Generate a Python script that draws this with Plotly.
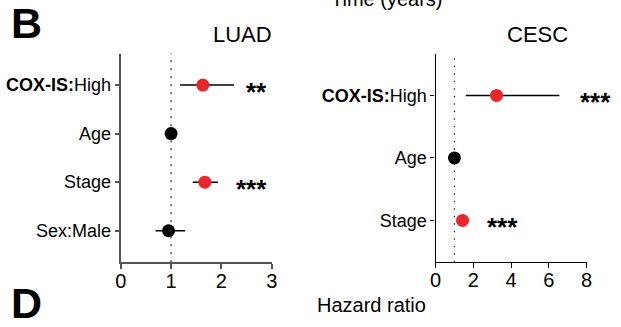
import plotly.graph_objects as go

# LUAD data
luad_vars = ["<b>COX-IS:</b>High", "Age", "Stage", "Sex:Male"]
luad_hr = [1.63, 1.00, 1.67, 0.95]
luad_lo = [1.18, 0.99, 1.43, 0.69]
luad_hi = [2.25, 1.02, 1.93, 1.28]
luad_color = ["#e8262b", "black", "#e8262b", "black"]
luad_sig = ["**", "", "***", ""]
luad_sig_x = [2.45, None, 2.25, None]

# CESC data
cesc_vars = ["<b>COX-IS:</b>High", "Age", "Stage"]
cesc_hr = [3.23, 1.00, 1.43]
cesc_lo = [1.60, 0.99, 1.25]
cesc_hi = [6.56, 1.02, 1.65]
cesc_color = ["#e8262b", "black", "#e8262b"]
cesc_sig = ["***", "", "***"]
cesc_sig_x = [7.55, None, 2.6]

luad_xticks = [0, 1, 2, 3]
cesc_xticks = [0, 2, 4, 6, 8]

W, H = 621, 327
FONT = "Arial, Liberation Sans, sans-serif"

fig = go.Figure()

def add_panel(vars_, hr, lo, hi, colors, xa, ya):
    ypos = list(range(len(vars_)))
    fig.add_trace(go.Scatter(
        x=hr, y=ypos, mode="markers",
        marker=dict(color=colors, size=13, line=dict(width=0)),
        error_x=dict(type="data", symmetric=False,
                     array=[h - m for h, m in zip(hi, hr)],
                     arrayminus=[m - l for m, l in zip(hr, lo)],
                     color="black", thickness=1.5, width=0),
        xaxis=xa, yaxis=ya, showlegend=False, cliponaxis=False))

add_panel(luad_vars, luad_hr, luad_lo, luad_hi, luad_color, "x", "y")
add_panel(cesc_vars, cesc_hr, cesc_lo, cesc_hi, cesc_color, "x2", "y2")

ybot = (H - 262.3) / H
ytop = (H - 53.5) / H

left_col = "#555555"
fig.update_layout(
    width=W, height=H,
    margin=dict(l=0, r=0, t=0, b=0),
    paper_bgcolor="white", plot_bgcolor="white",
    font=dict(family=FONT, color="black"),
    xaxis=dict(domain=[117 / W, 271 / W], range=[0, 3], tickvals=luad_xticks,
               showgrid=False, zeroline=False, showline=True, linecolor=left_col,
               linewidth=2, ticks="outside", ticklen=5, tickwidth=2, tickcolor=left_col,
               tickfont=dict(size=20), ticklabelstandoff=-5, anchor="y"),
    yaxis=dict(domain=[ybot, ytop], range=[3.65, -0.65],
               tickvals=list(range(len(luad_vars))), ticktext=luad_vars,
               showgrid=False, zeroline=False, showline=True, linecolor=left_col,
               linewidth=2, ticks="outside", ticklen=4, tickwidth=1.5, tickcolor=left_col,
               tickfont=dict(size=18), anchor="x"),
    xaxis2=dict(domain=[438 / W, 592 / W], range=[0, 8], tickvals=cesc_xticks,
                showgrid=False, zeroline=False, showline=True, linecolor="black",
                linewidth=1.3, ticks="outside", ticklen=5, tickwidth=1.3, tickcolor="black",
                tickfont=dict(size=20), ticklabelstandoff=-5, anchor="y2"),
    yaxis2=dict(domain=[ybot, ytop], range=[2.67, -0.67],
                tickvals=list(range(len(cesc_vars))), ticktext=cesc_vars,
                showgrid=False, zeroline=False, showline=True, linecolor="black",
                linewidth=1.3, ticks="outside", ticklen=4, tickwidth=1.3, tickcolor="black",
                tickfont=dict(size=18), anchor="x2"),
)

# dotted reference lines at HR = 1
fig.add_shape(type="line", xref="x", yref="y domain", x0=1, x1=1, y0=0, y1=1,
              line=dict(color="#555555", width=1.6, dash="2px,6px"), layer="below")
fig.add_shape(type="line", xref="x2", yref="y2 domain", x0=1, x1=1, y0=0, y1=1,
              line=dict(color="#222222", width=1.2, dash="1.5px,6px"), layer="below")

ann = []
for i, (s, sx) in enumerate(zip(luad_sig, luad_sig_x)):
    if s:
        ann.append(dict(x=sx, y=i, xref="x", yref="y", text="<b>" + s + "</b>", showarrow=False,
                        xanchor="left", yanchor="middle", yshift=-7,
                        font=dict(size=26, color="black")))
for i, (s, sx) in enumerate(zip(cesc_sig, cesc_sig_x)):
    if s:
        ann.append(dict(x=sx, y=i, xref="x2", yref="y2", text="<b>" + s + "</b>", showarrow=False,
                        xanchor="left", yanchor="middle", yshift=-7,
                        font=dict(size=26, color="black")))

def px(x, y, text, size, xanchor="center"):
    return dict(x=x / W, y=1 - y / H, xref="paper", yref="paper", text=text,
                showarrow=False, xanchor=xanchor, yanchor="middle",
                font=dict(size=size, color="black", family=FONT))

ann += [
    px(241, 34.5, "LUAD", 22),
    px(541.7, 34.5, "CESC", 22),
    px(372.5, 305, "Hazard ratio", 20),
    px(388.5, -1, "Time (years)", 20),
    px(21, 23, "<b>B</b>", 43),
    px(21, 303, "<b>D</b>", 43),
]
fig.update_layout(annotations=ann)

fig.write_html("out.html")
